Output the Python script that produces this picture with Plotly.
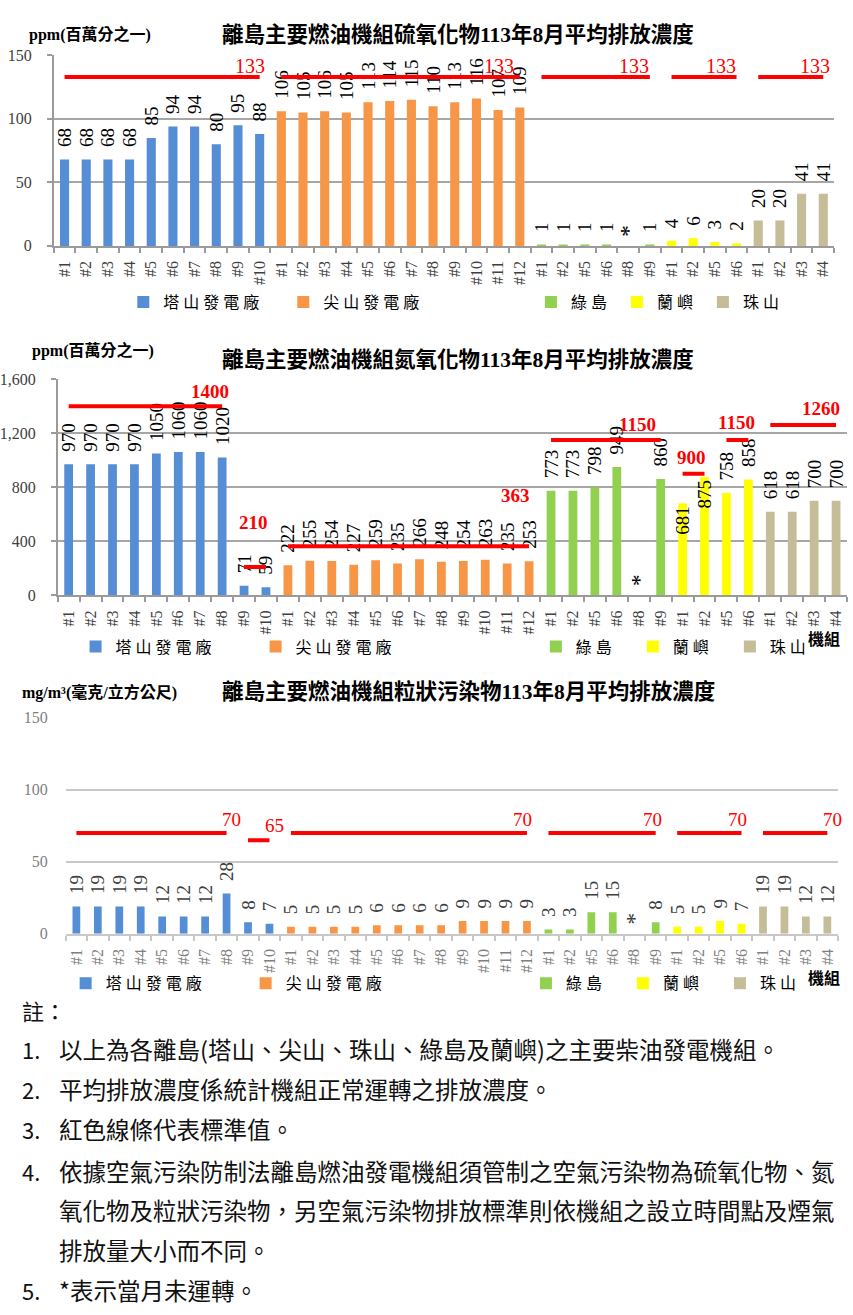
import plotly.graph_objects as go

W, H = 853, 1315
SERIF = '"Liberation Serif", "Times New Roman", "Noto Sans CJK TC", serif'
SANS = '"Noto Sans CJK TC", sans-serif'

# ---------------- categories ----------------
plant_names = ["塔山發電廠", "尖山發電廠", "綠島", "蘭嶼", "珠山"]
legend_names = ["塔 山 發 電 廠", "尖 山 發 電 廠", "綠 島", "蘭 嶼", "珠 山"]
tashan_units = ["#1", "#2", "#3", "#4", "#5", "#6", "#7", "#8", "#9", "#10"]
jianshan_units = ["#1", "#2", "#3", "#4", "#5", "#6", "#7", "#8", "#9", "#10", "#11", "#12"]
ludao_units = ["#1", "#2", "#5", "#6", "#8", "#9"]
lanyu_units = ["#1", "#2", "#5", "#6"]
zhushan_units = ["#1", "#2", "#3", "#4"]
plant_units = [tashan_units, jianshan_units, ludao_units, lanyu_units, zhushan_units]
plant_colors = ["#558ED5", "#F79646", "#92D050", "#FFFF00", "#C4BD97"]

# ---------------- SOx (ppm) ----------------
sox_tashan = [68, 68, 68, 68, 85, 94, 94, 80, 95, 88]
sox_jianshan = [106, 105, 106, 105, 113, 114, 115, 110, 113, 116, 107, 109]
sox_ludao = [1, 1, 1, 1, None, 1]
sox_lanyu = [4, 6, 3, 2]
sox_zhushan = [20, 20, 41, 41]
sox_std_first = [0, 10, 22, 28, 32]
sox_std_last = [9, 21, 27, 31, 35]
sox_std_value = [133, 133, 133, 133, 133]

# ---------------- NOx (ppm) ----------------
nox_tashan = [970, 970, 970, 970, 1050, 1060, 1060, 1020, 71, 59]
nox_jianshan = [222, 255, 254, 227, 259, 235, 266, 248, 254, 263, 235, 253]
nox_ludao = [773, 773, 798, 949, None, 860]
nox_lanyu = [681, 875, 758, 858]
nox_zhushan = [618, 618, 700, 700]
nox_std_first = [0, 8, 10, 22, 28, 30, 32]
nox_std_last = [7, 9, 21, 27, 29, 31, 35]
nox_std_value = [1400, 210, 363, 1150, 900, 1150, 1260]

# ---------------- PM (mg/m3) ----------------
pm_tashan = [19, 19, 19, 19, 12, 12, 12, 28, 8, 7]
pm_jianshan = [5, 5, 5, 5, 6, 6, 6, 6, 9, 9, 9, 9]
pm_ludao = [3, 3, 15, 15, None, 8]
pm_lanyu = [5, 5, 9, 7]
pm_zhushan = [19, 19, 12, 12]
pm_std_first = [0, 8, 10, 22, 28, 32]
pm_std_last = [7, 9, 21, 27, 31, 35]
pm_std_value = [70, 65, 70, 70, 70, 70]

titles = [
    "離島主要燃油機組硫氧化物113年8月平均排放濃度",
    "離島主要燃油機組氮氧化物113年8月平均排放濃度",
    "離島主要燃油機組粒狀污染物113年8月平均排放濃度",
]
units_text = ["ppm(百萬分之一)", "ppm(百萬分之一)", "mg/m³(毫克/立方公尺)"]

notes_num = ["1.", "2.", "3.", "4.", "", "", "5."]
notes_text = [
    "以上為各離島(塔山、尖山、珠山、綠島及蘭嶼)之主要柴油發電機組。",
    "平均排放濃度係統計機組正常運轉之排放濃度。",
    "紅色線條代表標準值。",
    "依據空氣污染防制法離島燃油發電機組須管制之空氣污染物為硫氧化物、氮",
    "氧化物及粒狀污染物，另空氣污染物排放標準則依機組之設立時間點及煙氣",
    "排放量大小而不同。",
    "*表示當月未運轉。",
]

# ---------------- layout geometry (pixels) ----------------
def fx(px):
    return px / W

def fy(py):
    return 1 - py / H

charts = [
    dict(vals=[sox_tashan, sox_jianshan, sox_ludao, sox_lanyu, sox_zhushan],
         std=(sox_std_first, sox_std_last, sox_std_value),
         x0=49, x1=834, ytop=48, ybot=241, yrange=[0, 150], ytick=[0, 50, 100, 150],
         tickfmt="", ax="x", ay="y", grid="#a6a6a6", axline=True, tcol="#404040",
         lblcol="#000000", barw=0.42, stdbold=False, stdsize=20,
         lab_dx=[7, -4, 1, 1, 9], lab_dy=[11, 11, 11, 11, 11], lab_anchor="right",
         title_y=27, unit_y=27, unit_x=22, legend_y=298, inside=[],
         legA=("legend", 119, 115), legB=("legend2", 529, 41), jizu=None),
    dict(vals=[nox_tashan, nox_jianshan, nox_ludao, nox_lanyu, nox_zhushan],
         std=(nox_std_first, nox_std_last, nox_std_value),
         x0=53, x1=847, ytop=376, ybot=595, yrange=[0, 1600], ytick=[0, 400, 800, 1200, 1600],
         tickfmt=",", ax="x2", ay="y2", grid="#a6a6a6", axline=True, tcol="#404040",
         lblcol="#000000", barw=0.40, stdbold=True, stdsize=19,
         lab_dx=[9, 4, 3, -3, 3, 9, 6], lab_dy=[15, 44, 51, 15, 16, 17, 17], lab_anchor="right",
         title_y=357, unit_y=347, unit_x=25, legend_y=647, inside=[(3, 0), (3, 1)],
         legA=("legend3", 71, 135), legB=("legend4", 534, 52), jizu=638),
    dict(vals=[pm_tashan, pm_jianshan, pm_ludao, pm_lanyu, pm_zhushan],
         std=(pm_std_first, pm_std_last, pm_std_value),
         x0=61, x1=838, ytop=719, ybot=938, yrange=[0, 150], ytick=[0, 50, 100, 150],
         tickfmt="", ax="x3", ay="y3", grid="#c8c8c8", axline=False, tcol="#7f7f7f",
         lblcol="#404040", barw=0.36, stdbold=False, stdsize=19,
         lab_dx=[5, 5, -4, -3, -4, 5], lab_dy=[13, 15, 13, 13, 13, 13], lab_anchor="center",
         title_y=693, unit_y=693, unit_x=15, legend_y=988, inside=[],
         legA=("legend5", 61, 135), legB=("legend6", 524, 52), jizu=982),
]

all_units = [u for units in plant_units for u in units]
n_cat = len(all_units)

fig = go.Figure()
annotations = []
layout = dict(width=W, height=H, margin=dict(l=0, r=0, t=0, b=0),
              paper_bgcolor="white", plot_bgcolor="white", barmode="overlay",
              showlegend=True, hovermode=False)

for ci, ch in enumerate(charts):
    axn = ch["ax"][1:]
    xa_key = "xaxis" + axn
    ya_key = "yaxis" + axn
    start = 0
    for pi, (vals, units) in enumerate(zip(ch["vals"], plant_units)):
        xs = list(range(start, start + len(units)))
        start += len(units)
        ys = [v if v is not None else 0 for v in vals]
        txt = [("\u00a0\u00a0" + str(v)) if v is not None else "\u00a0*" for v in vals]
        sizes = [19 if v is not None else 24 for v in vals]
        tpos = ["inside" if (pi, ui) in ch["inside"] else "outside" for ui in range(len(vals))]
        leg = ch["legA"][0] if pi < 2 else ch["legB"][0]
        fig.add_trace(go.Bar(
            x=xs, y=ys, width=ch["barw"], name=legend_names[pi],
            marker=dict(color=plant_colors[pi], line=dict(width=0)),
            text=txt, textposition=tpos, textangle=-90, constraintext="none",
            insidetextanchor="end", cliponaxis=False,
            textfont=dict(family=SERIF, size=sizes, color=ch["lblcol"]),
            xaxis=ch["ax"], yaxis=ch["ay"], legend=leg, showlegend=True,
        ))
    firsts, lasts, values = ch["std"]
    for k, (a, b, v) in enumerate(zip(firsts, lasts, values)):
        fig.add_trace(go.Scatter(
            x=[a, b], y=[v, v], mode="lines",
            line=dict(color="#FF0000", width=4), showlegend=False,
            xaxis=ch["ax"], yaxis=ch["ay"], cliponaxis=False,
        ))
        annotations.append(dict(
            x=b, y=v, xref=ch["ax"], yref=ch["ay"], text=str(v), showarrow=False,
            xanchor=ch["lab_anchor"], yanchor="middle",
            xshift=ch["lab_dx"][k], yshift=ch["lab_dy"][k],
            font=dict(family=SERIF, size=ch["stdsize"], color="#FF0000",
                      weight="bold" if ch["stdbold"] else "normal"),
        ))
    axcol = "#9a9a9a" if ch["axline"] else ch["grid"]
    layout[xa_key] = dict(
        domain=[fx(ch["x0"]), fx(ch["x1"])], range=[-0.5, n_cat - 0.5],
        anchor=ch["ay"], tickmode="array", tickvals=list(range(n_cat)), ticktext=all_units,
        tickangle=-90, ticks="", showgrid=False, zeroline=False,
        showline=True, linecolor=axcol, linewidth=1.5,
        tickfont=dict(family=SERIF, size=16, color=ch["tcol"]),
        ticklabelstandoff=7,
        minor=dict(tickmode="linear", tick0=-0.5, dtick=1, ticks="outside", ticklen=5,
                   tickwidth=1.5, tickcolor=axcol, showgrid=False),
        fixedrange=True,
    )
    layout[ya_key] = dict(
        domain=[fy(ch["ybot"]), fy(ch["ytop"])], range=ch["yrange"], anchor=ch["ax"],
        tickmode="array", tickvals=ch["ytick"], tickformat=ch["tickfmt"],
        showgrid=True, gridcolor=ch["grid"], gridwidth=1.5, zeroline=False,
        showline=ch["axline"], linecolor="#9a9a9a", linewidth=1.5,
        ticks="outside" if ch["axline"] else "", ticklen=5, tickwidth=1.5, tickcolor="#9a9a9a",
        ticklabelstandoff=12 if ch["axline"] else 17,
        tickfont=dict(family=SERIF, size=16, color=ch["tcol"]),
        fixedrange=True,
    )
    for (lname, lx, lw) in (ch["legA"], ch["legB"]):
        layout[lname] = dict(
            orientation="h", x=fx(lx), y=fy(ch["legend_y"]), xanchor="left", yanchor="middle",
            xref="paper", yref="paper", bgcolor="rgba(0,0,0,0)", borderwidth=0,
            entrywidth=lw, entrywidthmode="pixels", itemwidth=30, tracegroupgap=0,
            font=dict(family=SERIF, size=16, color="#000000"),
            itemclick=False, itemdoubleclick=False,
        )
    annotations.append(dict(
        x=fx(216), y=fy(ch["title_y"]), xref="paper", yref="paper", text=titles[ci],
        showarrow=False, xanchor="left", yanchor="middle",
        font=dict(family=SERIF, size=21.5, color="#000000", weight="bold"),
    ))
    annotations.append(dict(
        x=fx(ch["unit_x"]), y=fy(ch["unit_y"]), xref="paper", yref="paper", text=units_text[ci],
        showarrow=False, xanchor="left", yanchor="middle",
        font=dict(family=SERIF, size=16, color="#000000", weight="bold"),
    ))
    if ch["jizu"] is not None:
        annotations.append(dict(
            x=fx(806), y=fy(ch["jizu"]), xref="paper", yref="paper", text="機組",
            showarrow=False, xanchor="left", yanchor="middle",
            font=dict(family=SANS, size=16, color="#000000", weight="bold"),
        ))

annotations.append(dict(
    x=fx(15), y=fy(1015), xref="paper", yref="paper", text="註：", showarrow=False,
    xanchor="left", yanchor="middle", font=dict(family=SANS, size=22, color="#111111"),
))
note_y = [1055, 1095, 1136, 1178, 1218, 1258, 1299]
for num, txt, yy in zip(notes_num, notes_text, note_y):
    if num:
        annotations.append(dict(
            x=fx(15), y=fy(yy), xref="paper", yref="paper", text=num, showarrow=False,
            xanchor="left", yanchor="middle", font=dict(family=SANS, size=22, color="#111111"),
        ))
    annotations.append(dict(
        x=fx(52), y=fy(yy), xref="paper", yref="paper", text=txt, showarrow=False,
        xanchor="left", yanchor="middle", font=dict(family=SANS, size=23.5, color="#111111"),
    ))

layout["annotations"] = annotations
fig.update_layout(**layout)
fig.write_html("out.html")
